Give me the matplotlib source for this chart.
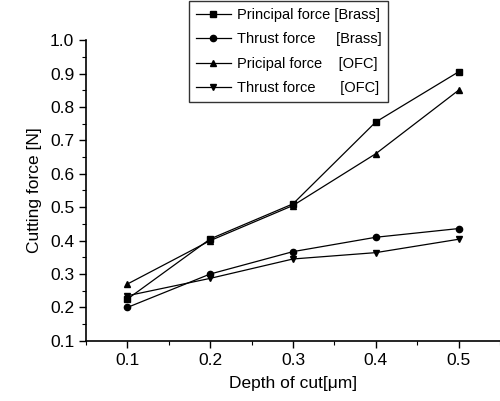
import matplotlib.pyplot as plt
from matplotlib.ticker import MultipleLocator

plt.rcParams['font.family'] = ['Liberation Sans', 'DejaVu Sans']

depth = [0.1, 0.2, 0.3, 0.4, 0.5]
principal_brass = [0.225, 0.405, 0.51, 0.755, 0.905]
thrust_brass = [0.20, 0.30, 0.367, 0.41, 0.436]
principal_ofc = [0.27, 0.40, 0.505, 0.66, 0.85]
thrust_ofc = [0.235, 0.287, 0.345, 0.364, 0.404]

labels = ["Principal force [Brass]", "Thrust force     [Brass]",
          "Pricipal force    [OFC]", "Thrust force      [OFC]"]

fig = plt.figure(figsize=(5.0, 4.01), dpi=100)
ax = fig.add_axes([0.172, 0.15, 0.828, 0.75])

kw = dict(color='black', lw=0.9, ms=4.5)
ax.plot(depth, principal_brass, marker='s', label=labels[0], **kw)
ax.plot(depth, thrust_brass, marker='o', label=labels[1], **kw)
ax.plot(depth, principal_ofc, marker='^', label=labels[2], **kw)
ax.plot(depth, thrust_ofc, marker='v', label=labels[3], **kw)

ax.set_xlim(0.05, 0.55)
ax.set_ylim(0.1, 1.0)
ax.xaxis.set_major_locator(MultipleLocator(0.1))
ax.xaxis.set_minor_locator(MultipleLocator(0.05))
ax.yaxis.set_major_locator(MultipleLocator(0.1))
ax.yaxis.set_minor_locator(MultipleLocator(0.05))
ax.set_xticks([0.1, 0.2, 0.3, 0.4, 0.5])
ax.set_xticklabels(['0.1', '0.2', '0.3', '0.4', '0.5'])

for s in ['top', 'right']:
    ax.spines[s].set_visible(False)
for s in ['left', 'bottom']:
    ax.spines[s].set_linewidth(1.2)

ax.tick_params(which='major', direction='out', length=5, width=1, labelsize=12.5)
ax.tick_params(which='minor', direction='out', length=3, width=0.8)

ax.set_xlabel('Depth of cut[\u03bcm]', fontsize=12.5, labelpad=6)
ax.set_ylabel('Cutting force [N]', fontsize=12.5, labelpad=6)

leg = ax.legend(loc='upper left', bbox_to_anchor=(0.378, 0.997),
                bbox_transform=fig.transFigure, fontsize=10.5, frameon=True,
                fancybox=False, edgecolor='black', handlelength=2.4,
                handletextpad=0.45, labelspacing=0.72, borderpad=0.45,
                borderaxespad=0)
leg.get_frame().set_linewidth(1.0)

fig.savefig('out.png', dpi=100)
